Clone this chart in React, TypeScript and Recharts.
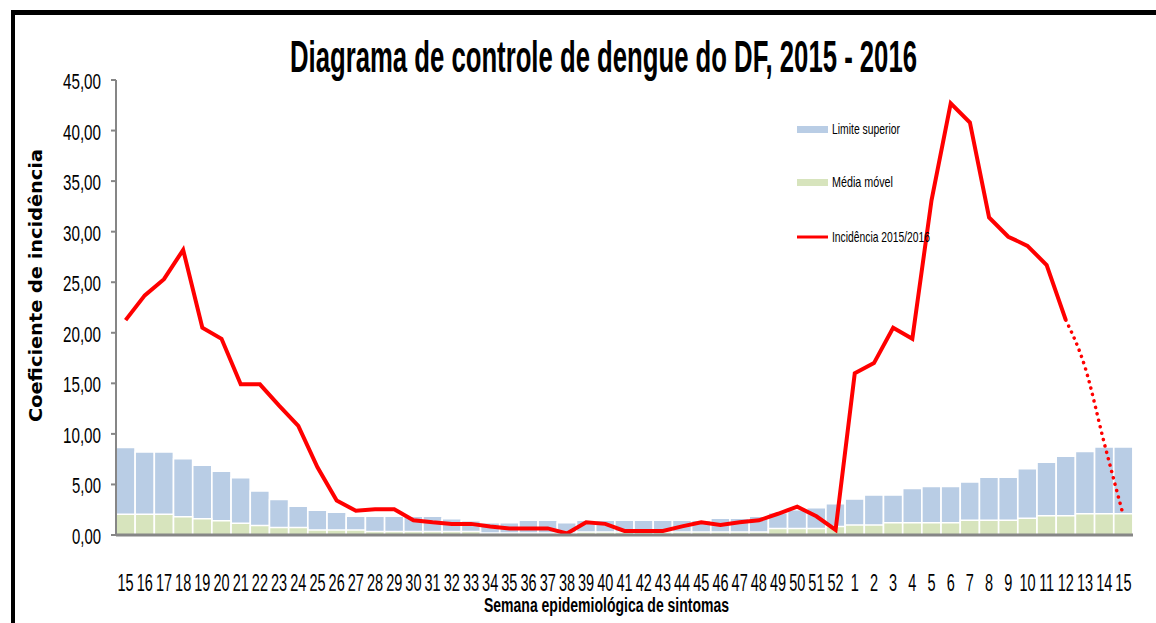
import React from 'react';
import { ComposedChart, Bar, Line, XAxis, YAxis, Legend } from 'recharts';

const weekLabels = [
  '15', '16', '17', '18', '19', '20', '21', '22', '23', '24', '25', '26', '27', '28', '29', '30', '31', '32', '33',
  '34', '35', '36', '37', '38', '39', '40', '41', '42', '43', '44', '45', '46', '47', '48', '49', '50', '51', '52',
  '1', '2', '3', '4', '5', '6', '7', '8', '9', '10', '11', '12', '13', '14', '15',
];

const limiteSuperior = [
  8.65, 8.2, 8.2, 7.55, 6.9, 6.3, 5.65, 4.35, 3.5, 2.85, 2.45, 2.25, 1.85, 1.85, 1.85, 1.85, 1.85, 1.6, 1.4,
  1.2, 1.2, 1.45, 1.45, 1.2, 1.45, 1.45, 1.45, 1.45, 1.45, 1.45, 1.45, 1.65, 1.65, 1.85, 2.2, 2.5, 2.7, 3.1,
  3.55, 3.95, 3.95, 4.6, 4.8, 4.8, 5.25, 5.7, 5.7, 6.55, 7.2, 7.8, 8.25, 8.7, 8.7,
];

const mediaMovel = [
  2.05, 2.05, 2.05, 1.8, 1.6, 1.4, 1.15, 0.95, 0.75, 0.75, 0.5, 0.5, 0.5, 0.35, 0.35, 0.35, 0.35, 0.35, 0.35,
  0.2, 0.2, 0.2, 0.2, 0.2, 0.3, 0.3, 0.3, 0.3, 0.3, 0.3, 0.3, 0.3, 0.3, 0.3, 0.65, 0.65, 0.65, 0.85,
  1.0, 1.0, 1.2, 1.2, 1.2, 1.2, 1.45, 1.45, 1.45, 1.65, 1.9, 1.9, 2.1, 2.1, 2.1,
];

const incidencia = [
  21.25, 23.7, 25.3, 28.2, 20.5, 19.4, 14.9, 14.9, 12.8, 10.8, 6.7, 3.4, 2.4, 2.55, 2.55, 1.45, 1.25, 1.1, 1.1,
  0.85, 0.65, 0.65, 0.65, 0.15, 1.25, 1.1, 0.4, 0.4, 0.4, 0.85, 1.25, 1.0, 1.25, 1.45, 2.1, 2.8, 1.85, 0.5,
  16.0, 17.0, 20.5, 19.4, 33.1, 42.7, 40.8, 31.4, 29.5, 28.6, 26.7, 21.25,
];

// dotted projection (2016 weeks 12 - 15)
const projecaoStart = 49;
const projecao = [21.25, 16.6, 9.1, 1.9];

const yTicks = [0, 5, 10, 15, 20, 25, 30, 35, 40, 45];

const data = weekLabels.map((w, i) => ({
  idx: i,
  week: w,
  limite: limiteSuperior[i],
  media: mediaMovel[i],
  incidencia: i < incidencia.length ? incidencia[i] : null,
  projecao: i >= projecaoStart ? projecao[i - projecaoStart] : null,
}));

const FONT = "'Liberation Sans', Arial, sans-serif";
const BLUE = '#B9CDE5';
const GREEN = '#D7E4BD';
const RED = '#FF0000';
const AXIS = '#868686';

const fmt = (v: number) => v.toFixed(2).replace('.', ',');

const YTick = (props: any) => {
  const { y, payload } = props;
  const s = fmt(payload.value);
  const w = s.length === 5 ? 38 : 29;
  return (
    <text x={101 - w} y={y + 9} textLength={w} lengthAdjust="spacingAndGlyphs" fontSize={22} fontFamily={FONT} fill="#000">
      {s}
    </text>
  );
};

const XTick = (props: any) => {
  const { x, payload } = props;
  const s = weekLabels[payload.value] ?? '';
  return (
    <text
      transform={`translate(${x},590.5) scale(1,1.68)`}
      x={0}
      y={0}
      textAnchor="middle"
      fontSize={14.5}
      fontFamily={FONT}
      fill="#000"
    >
      {s}
    </text>
  );
};

const LegendContent = () => (
  <svg width={200} height={140} style={{ display: 'block' }}>
    <rect x={7} y={16} width={31} height={7} fill={BLUE} />
    <text x={42} y={24} fontSize={15} fontFamily={FONT} textLength={68} lengthAdjust="spacingAndGlyphs" fill="#000">
      Limite superior
    </text>
    <rect x={7} y={69} width={31} height={7} fill={GREEN} />
    <text x={42} y={77} fontSize={15} fontFamily={FONT} textLength={61} lengthAdjust="spacingAndGlyphs" fill="#000">
      Média móvel
    </text>
    <line x1={7} x2={38} y1={127} y2={127} stroke={RED} strokeWidth={3} />
    <text x={42} y={132} fontSize={15} fontFamily={FONT} textLength={98} lengthAdjust="spacingAndGlyphs" fill="#000">
      Incidência 2015/2016
    </text>
  </svg>
);

export default function App() {
  return (
    <div style={{ position: 'absolute', left: 0, top: 0, width: 1156, height: 623, background: '#fff', overflow: 'hidden' }}>
      <div
        style={{
          position: 'absolute',
          left: 11,
          top: 10,
          width: 1160,
          height: 630,
          borderTop: '5px solid #000',
          borderLeft: '4px solid #000',
        }}
      />
      <div style={{ position: 'absolute', left: 0, top: 0 }}>
        <ComposedChart
          width={1156}
          height={623}
          data={data}
          margin={{ top: 80, right: 23, bottom: 0, left: 0 }}
          barCategoryGap={0}
          barGap={0}
        >
          <XAxis
            xAxisId="main"
            dataKey="idx"
            type="category"
            height={88}
            tickLine={false}
            tickSize={0}
            tickMargin={0}
            interval={0}
            axisLine={{ stroke: AXIS, strokeWidth: 3 }}
            tick={<XTick />}
          />
          <XAxis xAxisId="overlay" dataKey="idx" type="category" hide />
          <YAxis
            domain={[0, 45]}
            ticks={yTicks}
            width={116}
            tickSize={5}
            axisLine={{ stroke: AXIS, strokeWidth: 2 }}
            tickLine={{ stroke: AXIS, strokeWidth: 2 }}
            tick={<YTick />}
            interval={0}
          />
          <Legend
            layout="vertical"
            align="center"
            verticalAlign="middle"
            wrapperStyle={{ left: 790, top: 110, width: 200, height: 140 }}
            content={<LegendContent />}
          />
          <Bar
            xAxisId="main"
            dataKey="limite"
            name="Limite superior"
            fill={BLUE}
            stroke="#fff"
            strokeWidth={1.5}
            isAnimationActive={false}
          />
          <Bar
            xAxisId="overlay"
            dataKey="media"
            name="Média móvel"
            fill={GREEN}
            stroke="#fff"
            strokeWidth={1.5}
            isAnimationActive={false}
          />
          <Line
            xAxisId="main"
            dataKey="incidencia"
            name="Incidência 2015/2016"
            type="linear"
            stroke={RED}
            strokeWidth={4}
            dot={false}
            activeDot={false}
            isAnimationActive={false}
          />
          <Line
            xAxisId="main"
            dataKey="projecao"
            legendType="none"
            type="monotone"
            stroke={RED}
            strokeWidth={3.5}
            strokeDasharray="0.1 6.5"
            strokeLinecap="round"
            dot={false}
            activeDot={false}
            isAnimationActive={false}
          />
        </ComposedChart>
      </div>
      <svg width={1156} height={623} style={{ position: 'absolute', left: 0, top: 0, pointerEvents: 'none' }}>
        <text
          transform="translate(290,72) scale(1,1.7)"
          x={0}
          y={0}
          fontSize={26}
          fontWeight="bold"
          fontFamily={FONT}
          textLength={627}
          lengthAdjust="spacingAndGlyphs"
          fill="#000"
        >
          Diagrama de controle de dengue do DF, 2015 - 2016
        </text>
        <text
          transform="translate(484,611.5) scale(1,1.5)"
          x={0}
          y={0}
          fontSize={13.5}
          fontWeight="bold"
          fontFamily={FONT}
          textLength={245}
          lengthAdjust="spacingAndGlyphs"
          fill="#000"
        >
          Semana epidemiológica  de sintomas
        </text>
        <text
          x={41.5}
          y={422}
          transform="rotate(-90 41.5 422)"
          fontSize={18}
          fontWeight="bold"
          fontFamily="'DejaVu Sans', Verdana, sans-serif"
          textLength={273}
          lengthAdjust="spacingAndGlyphs"
          fill="#000"
        >
          Coeficiente de incidência
        </text>
      </svg>
    </div>
  );
}
